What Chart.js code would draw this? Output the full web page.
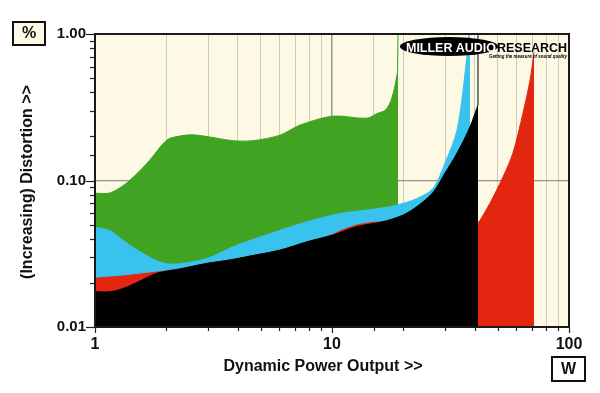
<!DOCTYPE html>
<html><head><meta charset="utf-8">
<script src="https://cdn.jsdelivr.net/npm/chart.js@4.4.1/dist/chart.umd.min.js"></script>
<style>html,body{margin:0;padding:0;background:#fff;}#wrap{width:600px;height:393px;}</style>
</head><body><div id="wrap"><canvas id="c" width="600" height="393"></canvas></div>
<script>
// ---- data (x = power in W, y = distortion in %) ----
// repeated points mark sharp corners
const blackX = [1.0, 1.157, 1.313, 1.548, 1.826, 2.28, 2.97, 3.71, 4.51, 6.04, 7.85, 10.1, 12.7, 16.4, 19.9, 23.0, 26.7, 30.0, 33.7, 38.2, 41.3, 41.3, 41.3];
const blackY = [0.0174, 0.0174, 0.0183, 0.0206, 0.0233, 0.0249, 0.0272, 0.0287, 0.0305, 0.0335, 0.0382, 0.0425, 0.0484, 0.0523, 0.058, 0.067, 0.083, 0.1125, 0.154, 0.232, 0.328, 0.328, 1.0];

const redX = [1.0, 1.02, 1.313, 1.826, 2.28, 2.97, 3.71, 4.51, 6.04, 7.85, 10.1, 10.8, 12.7, 14.9, 16.4, 19.9, 23.5, 30.0, 38.0, 41.2, 41.7, 41.7, 46.4, 52.7, 58.0, 64.0, 68.5, 71.2];
const redY = [0.0213, 0.0216, 0.0223, 0.0237, 0.0249, 0.0271, 0.0286, 0.0304, 0.0334, 0.038, 0.0427, 0.0452, 0.0496, 0.0518, 0.0523, 0.057, 0.06, 0.06, 0.055, 0.052, 0.052, 0.052, 0.070, 0.106, 0.154, 0.29, 0.485, 0.75];

const cyanX = [1.0, 1.157, 1.313, 1.548, 1.826, 2.07, 2.35, 2.97, 3.71, 4.09, 4.97, 6.04, 7.85, 10.8, 14.9, 18.8, 22.8, 26.7, 30.0, 33.7, 37.1, 37.9, 37.9, 38.2];
const cyanY = [0.048, 0.0455, 0.039, 0.0327, 0.0283, 0.0269, 0.0272, 0.0294, 0.0345, 0.0368, 0.0411, 0.0458, 0.0523, 0.0595, 0.0636, 0.068, 0.0753, 0.0884, 0.132, 0.221, 0.70, 1.0, 1.0, 1.0];

const greenX = [1.0, 1.157, 1.365, 1.657, 2.013, 2.28, 2.59, 3.0, 3.82, 4.64, 6.04, 7.33, 10.1, 14.0, 15.6, 16.7, 17.6, 18.3, 18.9, 18.9, 19.0];
const greenY = [0.0818, 0.0823, 0.0966, 0.131, 0.189, 0.201, 0.205, 0.199, 0.187, 0.187, 0.204, 0.239, 0.275, 0.266, 0.288, 0.30, 0.34, 0.42, 0.55, 0.55, 1.0];

const xTickLabels = ['1', '10', '100'];
const yTickLabels = ['0.01', '0.10', '1.00'];
const xAxisTitle = 'Dynamic Power Output >>';
const yAxisTitle = '(Increasing) Distortion >>';
const yUnit = '%';
const xUnit = 'W';

// ---- helpers ----
const FONT = '"Liberation Sans", Arial, Helvetica, sans-serif';
const pts = (xs, ys) => xs.map((x, i) => ({x: x, y: ys[i]}));
const isDecade = v => Math.abs(Math.log10(v) - Math.round(Math.log10(v))) < 1e-6;

function series(xs, ys, color) {
  return {
    data: pts(xs, ys), borderColor: color, backgroundColor: color,
    borderWidth: 1, pointRadius: 0, fill: 'start', tension: 0.3
  };
}

const decor = {
  id: 'decor',
  beforeDraw(chart) {
    const {ctx, chartArea: a} = chart;
    ctx.save();
    ctx.fillStyle = '#fdf9e4';
    ctx.fillRect(a.left, a.top, a.right - a.left, a.bottom - a.top);
    ctx.restore();
  },
  afterDraw(chart) {
    const {ctx, chartArea: a, scales} = chart;
    ctx.save();
    // tick marks
    ctx.strokeStyle = '#222';
    ctx.lineWidth = 1.2;
    scales.y.ticks.forEach(t => {
      const py = Math.round(scales.y.getPixelForValue(t.value)) + 0.5;
      const len = isDecade(t.value) ? 8 : 4;
      ctx.beginPath(); ctx.moveTo(a.left - 1 - len, py); ctx.lineTo(a.left - 1, py); ctx.stroke();
    });
    scales.x.ticks.forEach(t => {
      const px = Math.round(scales.x.getPixelForValue(t.value)) + 0.5;
      const len = isDecade(t.value) ? 5 : 3;
      ctx.beginPath(); ctx.moveTo(px, a.bottom + 1); ctx.lineTo(px, a.bottom + 1 + len); ctx.stroke();
    });
    // frame
    ctx.strokeStyle = '#1a1a1a';
    ctx.lineWidth = 2;
    ctx.strokeRect(a.left, a.top, a.right - a.left, a.bottom - a.top);
    // unit boxes
    ctx.fillStyle = '#fdf9e4';
    ctx.fillRect(13, 22, 32, 23);
    ctx.strokeStyle = '#111';
    ctx.strokeRect(13, 22, 32, 23);
    ctx.fillStyle = '#fff';
    ctx.fillRect(552, 357, 33, 24);
    ctx.strokeRect(552, 357, 33, 24);
    ctx.fillStyle = '#111';
    ctx.textAlign = 'center';
    ctx.textBaseline = 'middle';
    ctx.font = 'bold 16px ' + FONT;
    ctx.fillText(yUnit, 29, 34);
    ctx.fillText(xUnit, 568.5, 370);
    // axis titles
    ctx.fillText(xAxisTitle, 323, 367);
    ctx.save();
    ctx.translate(28, 182);
    ctx.rotate(-Math.PI / 2);
    ctx.fillText(yAxisTitle, 0, 0);
    ctx.restore();
    // logo
    ctx.fillStyle = '#000';
    ctx.beginPath();
    ctx.ellipse(449, 46.5, 49, 9.5, 0, 0, Math.PI * 2);
    ctx.fill();
    ctx.font = '900 13px ' + FONT;
    ctx.textAlign = 'left';
    ctx.textBaseline = 'alphabetic';
    ctx.fillStyle = '#fff';
    ctx.fillText('MILLER AUDIO', 406, 51.5, 90);
    ctx.fillStyle = '#000';
    ctx.fillText('RESEARCH', 497, 51.5, 70);
    ctx.font = 'italic bold 5px ' + FONT;
    ctx.fillText('Getting the measure of sound quality', 489, 58, 78);
    ctx.restore();
  }
};

new Chart(document.getElementById('c'), {
  type: 'line',
  data: {
    datasets: [
      series(blackX, blackY, '#000000'),
      series(redX, redY, '#e3260f'),
      series(cyanX, cyanY, '#38c3ef'),
      series(greenX, greenY, '#40a322')
    ]
  },
  options: {
    responsive: false,
    animation: false,
    layout: {padding: {left: 0, top: 34, right: 31, bottom: 0}},
    plugins: {legend: {display: false}, tooltip: {enabled: false}},
    scales: {
      x: {
        type: 'logarithmic', min: 1, max: 100, z: 1,
        afterFit: s => { s.height = 66; },
        border: {display: false},
        grid: {
          drawTicks: false,
          color: c => {
            const v = c.tick.value;
            if (v <= 1 || v >= 100) return 'rgba(0,0,0,0)';
            return isDecade(v) ? 'rgba(105,105,105,0.7)' : 'rgba(150,150,150,0.45)';
          },
          lineWidth: c => isDecade(c.tick.value) ? 1.5 : 1
        },
        ticks: {
          autoSkip: false, maxRotation: 0, padding: 8, color: '#111',
          font: {family: FONT, size: 16, weight: 'bold'},
          callback: v => isDecade(v) ? xTickLabels[Math.round(Math.log10(v))] : ''
        }
      },
      y: {
        type: 'logarithmic', min: 0.01, max: 1, z: 1,
        afterFit: s => { s.width = 95; },
        border: {display: false},
        grid: {
          drawTicks: false,
          color: c => Math.abs(c.tick.value - 0.1) < 1e-6 ? 'rgba(105,105,105,0.7)' : 'rgba(0,0,0,0)',
          lineWidth: 1.2
        },
        ticks: {
          autoSkip: false, padding: 9, color: '#111',
          font: {family: FONT, size: 15, weight: 'bold'},
          callback: v => isDecade(v) ? yTickLabels[Math.round(Math.log10(v)) + 2] : ''
        }
      }
    }
  },
  plugins: [decor]
});
</script></body></html>
